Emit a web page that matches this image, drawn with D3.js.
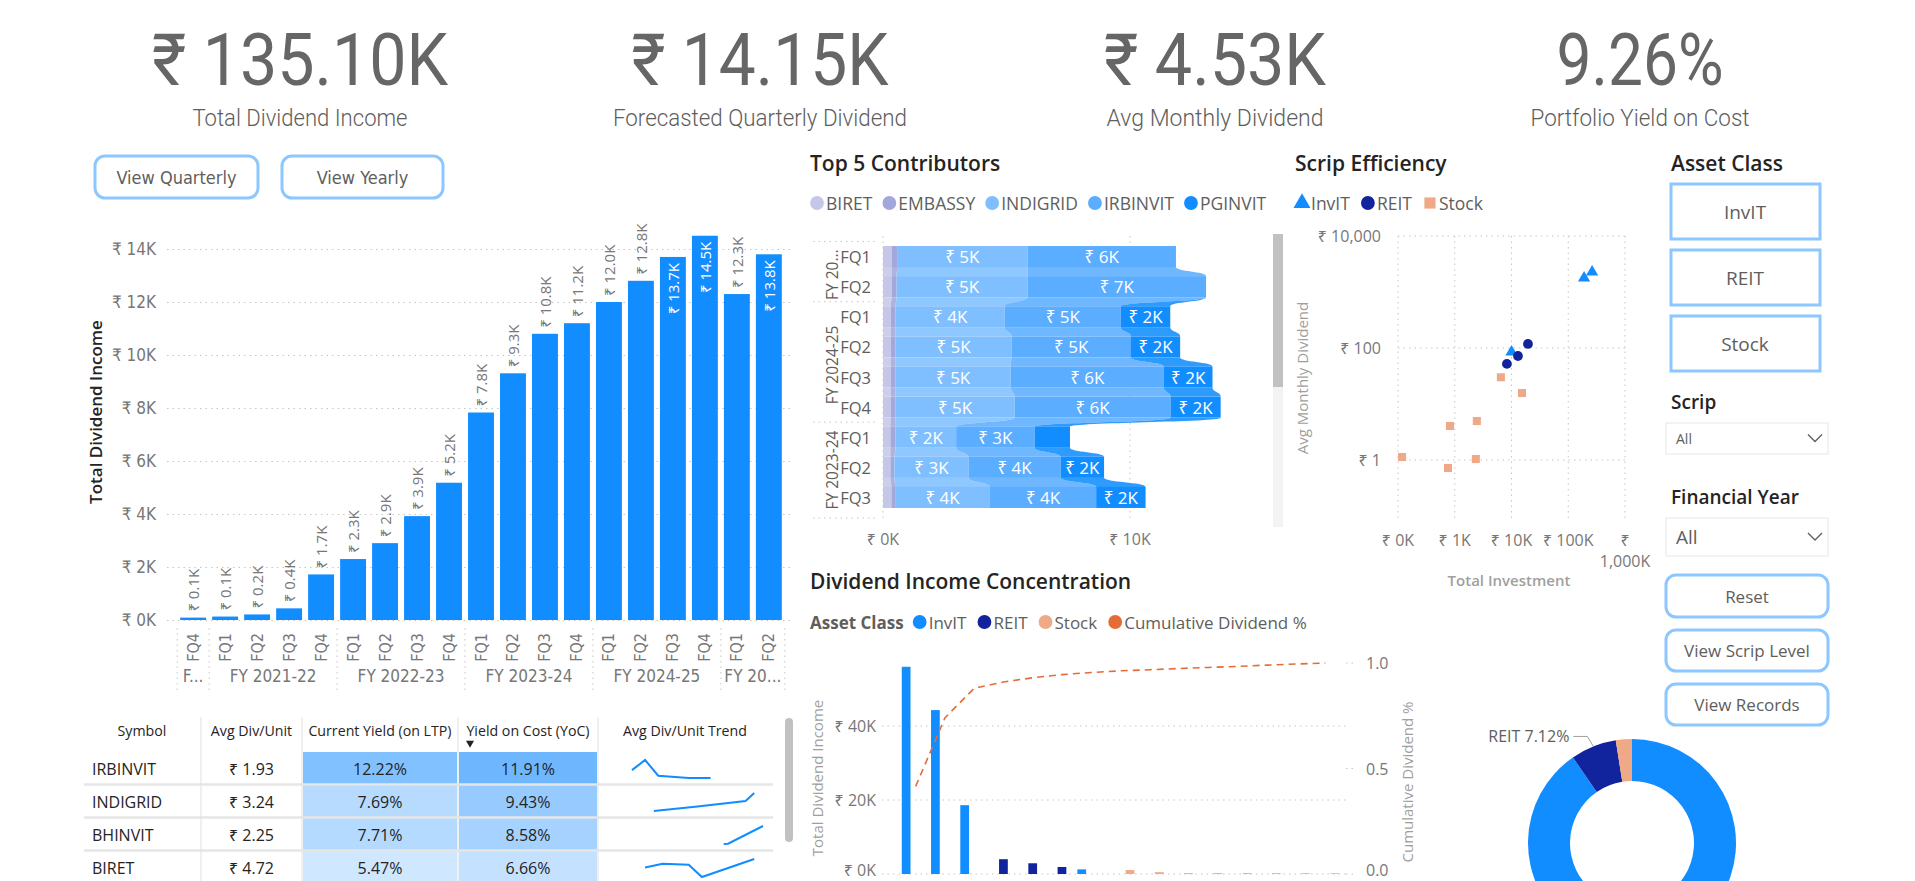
<!DOCTYPE html>
<html>
<head>
<meta charset="utf-8">
<script src="https://cdn.jsdelivr.net/npm/d3@7"></script>
<style>
    body { margin: 0; background: #fff; }
    svg { display: block; }
</style>
</head>
<body>
<div id="dash"></div>
<script>
// ---- data ----
var kpiValues = ["₹ 135.10K", "₹ 14.15K", "₹ 4.53K", "9.26%"];
var kpiLabels = ["Total Dividend Income", "Forecasted Quarterly Dividend", "Avg Monthly Dividend", "Portfolio Yield on Cost"];

var fiscalYears = ["FY 2020-21", "FY 2021-22", "FY 2022-23", "FY 2023-24", "FY 2024-25", "FY 2025-26"];
var quarterYear = [0, 1, 1, 1, 1, 2, 2, 2, 2, 3, 3, 3, 3, 4, 4, 4, 4, 5, 5];
var quarterNames = ["FQ4", "FQ1", "FQ2", "FQ3", "FQ4", "FQ1", "FQ2", "FQ3", "FQ4", "FQ1", "FQ2", "FQ3", "FQ4", "FQ1", "FQ2", "FQ3", "FQ4", "FQ1", "FQ2"];
var quarterIncome = [90, 130, 210, 440, 1720, 2300, 2900, 3920, 5180, 7830, 9310, 10800, 11200, 12000, 12800, 13700, 14500, 12300, 13800];

var contribSeries = ["BIRET", "EMBASSY", "INDIGRID", "IRBINVIT", "PGINVIT"];
var contribColors = ["#C5C7E9", "#A3A7DB", "#7FBFFF", "#5BADFF", "#118DFF"];
var contribYear = ["FY 2025-26", "FY 2025-26", "FY 2024-25", "FY 2024-25", "FY 2024-25", "FY 2024-25", "FY 2023-24", "FY 2023-24", "FY 2023-24"];
var contribQuarter = ["FQ1", "FQ2", "FQ1", "FQ2", "FQ3", "FQ4", "FQ1", "FQ2", "FQ3"];
var biretValues = [0.35, 0.35, 0.31, 0.31, 0.31, 0.31, 0.30, 0.30, 0.34];
var embassyValues = [0.22, 0.20, 0.20, 0.20, 0.20, 0.20, 0.21, 0.16, 0.15];
var indigridValues = [5.28, 5.30, 4.42, 4.69, 4.66, 4.82, 2.45, 3.00, 3.84];
var irbinvitValues = [6.01, 7.23, 4.70, 4.84, 6.20, 6.31, 3.18, 3.73, 4.30];
var pginvitValues = [0, 0, 2.00, 1.99, 1.97, 2.03, 1.43, 1.76, 2.00];

var scatterClass = ["InvIT", "InvIT", "InvIT", "REIT", "REIT", "REIT", "Stock", "Stock", "Stock", "Stock", "Stock", "Stock", "Stock"];
var scatterInvestment = [190000, 263000, 10000, 8300, 13000, 19500, 6500, 15300, 824, 2450, 118, 760, 2350];
var scatterAvgMonthly = [1780, 2275, 85, 52, 72, 118, 30, 15.7, 4.05, 4.97, 1.13, 0.72, 1.04];

var tableSymbols = ["IRBINVIT", "INDIGRID", "BHINVIT", "BIRET"];
var tableAvgDiv = [1.93, 3.24, 2.25, 4.72];
var tableCurYield = [12.22, 7.69, 7.71, 5.47];
var tableYoc = [11.91, 9.43, 8.58, 6.66];
var trendMonths = [[0, 3, 6, 13, 18], [5, 15, 26, 28], [21, 22, 30], [3, 7, 13, 16, 28]];
var trendValues = [[2.05, 2.50, 1.80, 1.70, 1.70], [3.05, 3.15, 3.27, 3.45], [1.90, 1.92, 2.93], [4.73, 4.94, 4.88, 4.20, 5.20]];

var paretoScrips = ["IRBINVIT", "INDIGRID", "PGINVIT", "EMBASSY", "MINDSPACE", "BIRET", "BHINVIT", "STOCK A", "STOCK B", "STOCK C", "STOCK D", "STOCK E", "STOCK F", "STOCK G", "STOCK H"];
var paretoClass = ["InvIT", "InvIT", "InvIT", "REIT", "REIT", "REIT", "InvIT", "Stock", "Stock", "Stock", "Stock", "Stock", "Stock", "Stock", "Stock"];
var paretoIncome = [56000, 44300, 18600, 4000, 2900, 1900, 1250, 1070, 500, 250, 250, 250, 220, 200, 200];
var paretoCumulative = [0.415, 0.74, 0.88, 0.91, 0.93, 0.945, 0.955, 0.963, 0.968, 0.974, 0.979, 0.984, 0.99, 0.995, 1.0];

var assetClasses = ["InvIT", "REIT", "Stock"];
var assetShare = [90.38, 7.12, 2.50];

// ---- styles ----
var FONT_DIN = "'Liberation Sans Narrow','DejaVu Sans Condensed',sans-serif";
var FONT_UI = "'Open Sans','Noto Sans',sans-serif";
var GREY = "#605E5C", DARK = "#252423", AXIS = "#777", GRID = "#C8C6C4";
var BLUE = "#118DFF", NAVY = "#12239E", SALMON = "#F0A987", ORANGE = "#E66C37", BORDER = "#8CC8FF";
var classColor = d3.scaleOrdinal().domain(assetClasses).range([BLUE, NAVY, SALMON]);

var svg = d3.select("#dash").append("svg").attr("width", 1915).attr("height", 881);

function label(g, x, y, txt, size, color, font, anchor, weight) {
    return g.append("text")
        .attr("x", x).attr("y", y)
        .attr("text-anchor", anchor || "start")
        .attr("dominant-baseline", "central")
        .style("font-family", font || FONT_UI)
        .style("font-size", size + "px")
        .style("font-weight", weight || 400)
        .attr("fill", color || GREY)
        .text(txt);
}

function fitText(sel, txt, maxW) {
    sel.text(txt);
    var s = txt;
    while (sel.node().getComputedTextLength() > maxW && s.length > 1) {
        s = s.slice(0, -1);
        sel.text(s.trim() + "...");
    }
}

function button(x, y, w, h, txt, size, font) {
    var g = svg.append("g");
    g.append("rect").attr("x", x).attr("y", y).attr("width", w).attr("height", h)
        .attr("rx", 10).attr("fill", "#fff").attr("stroke", BORDER).attr("stroke-width", 3);
    label(g, x + w / 2, y + h / 2, txt, size, GREY, font, "middle");
}

function legend(x, y, items, colors, shapes, size, gap) {
    var g = svg.append("g");
    var cx = x;
    items.forEach(function(d, i) {
        var shape = shapes ? shapes[i] : d3.symbolCircle;
        g.append("path").attr("d", d3.symbol().type(shape).size(shape === d3.symbolCircle ? 150 : 125))
            .attr("transform", "translate(" + (cx + 6) + "," + y + ")")
            .attr("fill", colors[i]);
        var t = label(g, cx + 15, y, d, size, GREY);
        cx += 15 + t.node().getComputedTextLength() + gap;
    });
    return g;
}

// ---- KPI cards ----
var kpiCenters = [300, 760, 1215, 1640];
var kpiValueWidths = [296, 257, 222, 167];
var kpiLabelWidths = [215, 294, 217, 219];
kpiValues.forEach(function(v, i) {
    svg.append("text").attr("x", kpiCenters[i]).attr("y", 85)
        .attr("text-anchor", "middle")
        .attr("textLength", kpiValueWidths[i]).attr("lengthAdjust", "spacingAndGlyphs")
        .style("font-family", "Roboto, sans-serif").style("font-size", "72px").style("font-weight", 400)
        .attr("fill", "#666").text(v);
    svg.append("text").attr("x", kpiCenters[i]).attr("y", 126)
        .attr("text-anchor", "middle")
        .attr("textLength", kpiLabelWidths[i]).attr("lengthAdjust", "spacingAndGlyphs")
        .style("font-family", "Roboto, sans-serif").style("font-size", "23px").style("font-weight", 300)
        .attr("fill", GREY).text(kpiLabels[i]);
});

button(95, 156, 163, 42, "View Quarterly", 18, FONT_DIN);
button(282, 156, 161, 42, "View Yearly", 18, FONT_DIN);

// ---- quarterly bar chart ----
var bar = svg.append("g");
var barX = d3.scaleBand().domain(d3.range(quarterIncome.length)).range([177, 785]).paddingInner(0.19).paddingOuter(0.1);
var barY = d3.scaleLinear().domain([0, 14000]).range([620, 249]);

bar.append("g").attr("transform", "translate(167,0)")
    .call(d3.axisLeft(barY).tickValues(d3.range(0, 14001, 2000))
        .tickSize(-623).tickPadding(11)
        .tickFormat(function(d) { return "₹ " + d / 1000 + "K"; }))
    .call(function(g) {
        g.select(".domain").remove();
        g.selectAll("line").attr("stroke", GRID).attr("stroke-dasharray", "1.5,4");
        g.selectAll("text").style("font-family", FONT_DIN).style("font-size", "17px").attr("fill", AXIS);
    });

bar.selectAll(".qbar").data(quarterIncome).enter().append("rect")
    .attr("class", "qbar")
    .attr("x", function(d, i) { return barX(i); })
    .attr("y", function(d) { return barY(d); })
    .attr("width", barX.bandwidth())
    .attr("height", function(d) { return barY(0) - barY(d); })
    .attr("fill", BLUE);

// labels go inside the bar when they would run past the top of the plot
bar.selectAll(".qlab").data(quarterIncome).enter().append("text")
    .attr("class", "qlab")
    .style("font-family", FONT_UI).style("font-size", "15px")
    .attr("dominant-baseline", "central")
    .text(function(d) { return "₹ " + d3.format(".1f")(d / 1000) + "K"; })
    .each(function(d, i) {
        var t = d3.select(this);
        var len = this.getComputedTextLength();
        var cx = barX(i) + barX.bandwidth() / 2;
        var top = barY(d);
        var inside = top - 6 - len < 222;
        t.attr("text-anchor", inside ? "end" : "start")
            .attr("fill", inside ? "#fff" : AXIS)
            .attr("transform", "translate(" + cx + "," + (inside ? top + 6 : top - 6) + ") rotate(-90)");
    });

bar.selectAll(".qname").data(quarterNames).enter().append("text")
    .attr("text-anchor", "end").attr("dominant-baseline", "central")
    .style("font-family", FONT_DIN).style("font-size", "16px").attr("fill", AXIS)
    .attr("transform", function(d, i) { return "translate(" + (barX(i) + barX.bandwidth() / 2) + ",633) rotate(-90)"; })
    .text(function(d) { return d; });

var step = barX.step();
var sepX = [barX(0) - step * 0.095];
fiscalYears.forEach(function(fy, k) {
    var idx = quarterYear.map(function(q, i) { return q === k ? i : -1; }).filter(function(i) { return i >= 0; });
    var x0 = barX(idx[0]) - (step - barX.bandwidth()) / 2;
    var x1 = barX(idx[idx.length - 1]) + barX.bandwidth() + (step - barX.bandwidth()) / 2;
    sepX.push(x1);
    var t = label(bar, (x0 + x1) / 2, 676, fy, 17, AXIS, FONT_DIN, "middle");
    fitText(t, fy, x1 - x0 - 6);
});
bar.selectAll(".sep").data(sepX).enter().append("line")
    .attr("x1", function(d) { return d; }).attr("x2", function(d) { return d; })
    .attr("y1", 628).attr("y2", 694)
    .attr("stroke", GRID).attr("stroke-dasharray", "1.5,4");

svg.append("text").attr("transform", "translate(95,412) rotate(-90)")
    .attr("text-anchor", "middle").attr("dominant-baseline", "central")
    .style("font-family", FONT_UI).style("font-size", "17px").style("font-weight", 600)
    .attr("fill", DARK).text("Total Dividend Income");

// ---- table ----
var tbl = svg.append("g");
var colEdges = [83, 201, 302, 458, 598, 772];
var headers = ["Symbol", "Avg Div/Unit", "Current Yield (on LTP)", "Yield on Cost (YoC)", "Avg Div/Unit Trend"];
var headTop = 717, rowTop = 752, rowH = 33;
var curColor = d3.scaleLinear().domain(d3.extent(tableCurYield)).range(["#CFE7FF", "#82C1FF"]);
var yocColor = d3.scaleLinear().domain(d3.extent(tableYoc)).range(["#C4E1FF", "#6EB7FF"]);

tableSymbols.forEach(function(s, r) {
    var y0 = rowTop + r * rowH;
    tbl.append("rect").attr("x", colEdges[2] + 1).attr("y", y0).attr("width", colEdges[3] - colEdges[2] - 2).attr("height", rowH - 1)
        .attr("fill", curColor(tableCurYield[r]));
    tbl.append("rect").attr("x", colEdges[3] + 1).attr("y", y0).attr("width", colEdges[4] - colEdges[3] - 2).attr("height", rowH - 1)
        .attr("fill", yocColor(tableYoc[r]));
    label(tbl, 92, y0 + rowH / 2, s, 16, DARK);
    label(tbl, (colEdges[1] + colEdges[2]) / 2, y0 + rowH / 2, "₹ " + d3.format(".2f")(tableAvgDiv[r]), 16, DARK, FONT_UI, "middle");
    label(tbl, (colEdges[2] + colEdges[3]) / 2, y0 + rowH / 2, d3.format(".2f")(tableCurYield[r]) + "%", 16, DARK, FONT_UI, "middle");
    label(tbl, (colEdges[3] + colEdges[4]) / 2, y0 + rowH / 2, d3.format(".2f")(tableYoc[r]) + "%", 16, DARK, FONT_UI, "middle");

    var sx = d3.scaleLinear().domain([0, 30]).range([632, 763]);
    var sy = d3.scaleLinear().domain(d3.extent(trendValues[r])).range([y0 + 26, y0 + 8]);
    var pts = trendMonths[r].map(function(m, j) { return [m, trendValues[r][j]]; });
    tbl.append("path").datum(pts)
        .attr("d", d3.line().x(function(d) { return sx(d[0]); }).y(function(d) { return sy(d[1]); }))
        .attr("fill", "none").attr("stroke", BLUE).attr("stroke-width", 2);

    if (r > 0) {
        tbl.append("line").attr("x1", 84).attr("x2", 773).attr("y1", y0 - 0.5).attr("y2", y0 - 0.5)
            .attr("stroke", "#E6E6E6").attr("stroke-width", 2.5);
    }
});
headers.forEach(function(h, c) {
    label(tbl, (colEdges[c] + colEdges[c + 1]) / 2, 730, h, 14.2, DARK, FONT_UI, "middle");
});
tbl.append("path").attr("d", d3.symbol().type(d3.symbolTriangle).size(28))
    .attr("transform", "translate(470,743) rotate(180)").attr("fill", DARK);
colEdges.slice(1, 5).forEach(function(x) {
    tbl.append("line").attr("x1", x).attr("x2", x).attr("y1", headTop).attr("y2", 881)
        .attr("stroke", "#E1E1E1").attr("stroke-width", 1);
});
tbl.append("rect").attr("x", 785).attr("y", 718).attr("width", 8).attr("height", 124).attr("rx", 4).attr("fill", "#C1C1C1");

// ---- Top 5 contributors (ribbon) ----
var rib = svg.append("g");
label(rib, 810, 163, "Top 5 Contributors", 21, DARK, FONT_UI, "start", 600);
legend(811, 203, contribSeries, contribColors, null, 17.5, 11);

var contribRows = contribQuarter.map(function(q, i) {
    return { BIRET: biretValues[i], EMBASSY: embassyValues[i], INDIGRID: indigridValues[i], IRBINVIT: irbinvitValues[i], PGINVIT: pginvitValues[i] };
});
var stack = d3.stack().keys(contribSeries)(contribRows);
var rx = d3.scaleLinear().domain([0, 10]).range([883, 1130]);
var ry = d3.scaleBand().domain(d3.range(contribRows.length)).range([237, 517]).padding(0.3);
var bw = ry.bandwidth();

[0, 10].forEach(function(v) {
    rib.append("line").attr("x1", rx(v)).attr("x2", rx(v)).attr("y1", 236).attr("y2", 522)
        .attr("stroke", GRID).attr("stroke-dasharray", "1.5,4");
    label(rib, rx(v), 539, "₹ " + v + "K", 16, AXIS, FONT_UI, "middle");
});

stack.forEach(function(layer, s) {
    for (var i = 0; i < layer.length - 1; i++) {
        var a = rx(layer[i][0]), b = rx(layer[i][1]), c = rx(layer[i + 1][0]), e = rx(layer[i + 1][1]);
        var yb = ry(i) + bw, yt = ry(i + 1), ym = (yb + yt) / 2;
        rib.append("path")
            .attr("d", "M" + a + "," + yb + "C" + a + "," + ym + " " + c + "," + ym + " " + c + "," + yt +
                "L" + e + "," + yt + "C" + e + "," + ym + " " + b + "," + ym + " " + b + "," + yb + "Z")
            .attr("fill", contribColors[s]).attr("opacity", 0.88);
    }
    rib.selectAll(null).data(layer).enter().append("rect")
        .attr("x", function(d) { return rx(d[0]); })
        .attr("y", function(d, i) { return ry(i); })
        .attr("width", function(d) { return rx(d[1]) - rx(d[0]); })
        .attr("height", bw)
        .attr("fill", contribColors[s]);
});
stack.forEach(function(layer) {
    layer.forEach(function(d, i) {
        var w = rx(d[1]) - rx(d[0]);
        if (w < 40) return;
        label(rib, (rx(d[0]) + rx(d[1])) / 2, ry(i) + bw / 2, "₹ " + Math.round(d[1] - d[0]) + "K", 17, "#fff", FONT_UI, "middle");
    });
});

contribQuarter.forEach(function(q, i) {
    label(rib, 871, ry(i) + bw / 2, q, 16.5, GREY, FONT_UI, "end");
});
var groupStarts = [];
contribYear.forEach(function(y, i) { if (i === 0 || contribYear[i - 1] !== y) groupStarts.push(i); });
var gap = (ry.step() - bw) / 2;
groupStarts.forEach(function(start, k) {
    var end = k < groupStarts.length - 1 ? groupStarts[k + 1] : contribYear.length;
    var y0 = ry(start) - gap, y1 = Math.min(ry(end - 1) + bw + gap + 6, 518);
    rib.append("line").attr("x1", 813).attr("x2", 877).attr("y1", y0).attr("y2", y0)
        .attr("stroke", GRID).attr("stroke-dasharray", "1.5,4");
    var t = rib.append("text").attr("text-anchor", "middle").attr("dominant-baseline", "central")
        .attr("transform", "translate(832," + (y0 + y1) / 2 + ") rotate(-90)")
        .style("font-family", FONT_UI).style("font-size", "15.5px").attr("fill", GREY);
    fitText(t, contribYear[start], y1 - y0 - 12);
    if (k === groupStarts.length - 1) {
        rib.append("line").attr("x1", 813).attr("x2", 877).attr("y1", 518).attr("y2", 518)
            .attr("stroke", GRID).attr("stroke-dasharray", "1.5,4");
    }
});
rib.append("rect").attr("x", 1273).attr("y", 234).attr("width", 10).attr("height", 293).attr("fill", "#F3F3F3");
rib.append("rect").attr("x", 1273).attr("y", 234).attr("width", 10).attr("height", 153).attr("fill", "#C1C1C1");

// ---- Scrip efficiency scatter ----
var sc = svg.append("g");
label(sc, 1295, 163, "Scrip Efficiency", 21, DARK, FONT_UI, "start", 600);
legend(1296, 203, assetClasses, [BLUE, NAVY, SALMON], [d3.symbolTriangle, d3.symbolCircle, d3.symbolSquare], 17.5, 12);

var scx = d3.scaleLog().domain([100, 1e6]).range([1398, 1625]);
var scy = d3.scaleLog().domain([0.1, 10000]).range([516, 236]);
[100, 1e3, 1e4, 1e5, 1e6].forEach(function(v) {
    sc.append("line").attr("x1", scx(v)).attr("x2", scx(v)).attr("y1", 236).attr("y2", 518)
        .attr("stroke", GRID).attr("stroke-dasharray", "1.5,4");
    var txt = "₹ " + d3.format(",")(Math.round(v / 1000)) + "K";
    if (v === 1e6) {
        label(sc, scx(v), 540, "₹", 16, AXIS, FONT_UI, "middle");
        label(sc, scx(v), 561, txt.slice(2), 16, AXIS, FONT_UI, "middle");
    } else {
        label(sc, scx(v), 540, txt, 16, AXIS, FONT_UI, "middle");
    }
});
[1, 100, 10000].forEach(function(v) {
    sc.append("line").attr("x1", 1398).attr("x2", 1626).attr("y1", scy(v)).attr("y2", scy(v))
        .attr("stroke", GRID).attr("stroke-dasharray", "1.5,4");
    label(sc, 1381, scy(v), "₹ " + d3.format(",")(v), 16, AXIS, FONT_UI, "end");
});
var shapeOf = { InvIT: d3.symbolTriangle, REIT: d3.symbolCircle, Stock: d3.symbolSquare };
sc.selectAll(".pt").data(scatterInvestment).enter().append("path")
    .attr("d", function(d, i) { return d3.symbol().type(shapeOf[scatterClass[i]]).size(scatterClass[i] === "REIT" ? 75 : 65)(); })
    .attr("transform", function(d, i) { return "translate(" + scx(d) + "," + scy(scatterAvgMonthly[i]) + ")"; })
    .attr("fill", function(d, i) { return classColor(scatterClass[i]); });
sc.append("text").attr("transform", "translate(1302,378) rotate(-90)")
    .attr("text-anchor", "middle").attr("dominant-baseline", "central")
    .style("font-family", FONT_UI).style("font-size", "15px").attr("fill", "#A19F9D").text("Avg Monthly Dividend");
label(sc, 1509, 580, "Total Investment", 15, "#A19F9D", FONT_UI, "middle", 600);

// ---- slicers ----
var sl = svg.append("g");
label(sl, 1671, 163, "Asset Class", 21, DARK, FONT_UI, "start", 600);
assetClasses.forEach(function(a, i) {
    var y = 184 + i * 66;
    sl.append("rect").attr("x", 1671).attr("y", y).attr("width", 149).attr("height", 55)
        .attr("fill", "#fff").attr("stroke", BORDER).attr("stroke-width", 3);
    label(sl, 1745, y + 27.5, a, 19, GREY, FONT_UI, "middle");
});
function dropdown(titleY, title, boxY, boxH, valSize) {
    label(sl, 1671, titleY, title, 19, DARK, FONT_UI, "start", 600);
    sl.append("rect").attr("x", 1666).attr("y", boxY).attr("width", 162).attr("height", boxH)
        .attr("fill", "#fff").attr("stroke", "#E8E8E8").attr("stroke-width", 1);
    label(sl, 1676, boxY + boxH / 2, "All", valSize, GREY, FONT_UI);
    var cy = boxY + boxH / 2;
    sl.append("polyline").attr("points", [[1808, cy - 4], [1815, cy + 3], [1822, cy - 4]].join(" "))
        .attr("fill", "none").attr("stroke", GREY).attr("stroke-width", 1.3);
}
dropdown(402, "Scrip", 423, 31, 14);
dropdown(497, "Financial Year", 518, 38, 19);
button(1666, 575, 162, 42, "Reset", 17, FONT_UI);
button(1666, 630, 162, 41, "View Scrip Level", 17, FONT_UI);
button(1666, 684, 162, 41, "View Records", 17, FONT_UI);

// ---- Pareto ----
var par = svg.append("g");
label(par, 810, 581, "Dividend Income Concentration", 21, DARK, FONT_UI, "start", 600);
var aw = label(par, 810, 622, "Asset Class", 17, GREY, FONT_UI, "start", 700).node().getComputedTextLength();
legend(810 + aw + 10, 622, assetClasses.concat(["Cumulative Dividend %"]), [BLUE, NAVY, SALMON, ORANGE], null, 17, 12);

var px0 = d3.scaleBand().domain(paretoScrips).range([901, 1340]);
var px1 = d3.scaleBand().domain(assetClasses).range([0, px0.bandwidth()]).padding(0.08);
var pyL = d3.scaleLinear().domain([0, 60000]).range([874, 652]);
var pyR = d3.scaleLinear().domain([0, 1]).range([874, 663]);

[0, 20000, 40000].forEach(function(v) {
    par.append("line").attr("x1", 882).attr("x2", 1346).attr("y1", pyL(v)).attr("y2", pyL(v))
        .attr("stroke", GRID).attr("stroke-dasharray", "1.5,4");
    label(par, 876, Math.min(pyL(v), 870), "₹ " + v / 1000 + "K", 16, AXIS, FONT_UI, "end");
});
[0, 0.5, 1].forEach(function(v) {
    par.append("line").attr("x1", 1346).attr("x2", 1356).attr("y1", pyR(v)).attr("y2", pyR(v))
        .attr("stroke", GRID).attr("stroke-dasharray", "1.5,4");
    label(par, 1366, Math.min(pyR(v), 870), d3.format(".1f")(v), 16, AXIS, FONT_UI, "start");
});
par.selectAll(".pbar").data(paretoIncome).enter().append("rect")
    .attr("x", function(d, i) { return px0(paretoScrips[i]) + px1(paretoClass[i]); })
    .attr("y", function(d) { return pyL(d); })
    .attr("width", px1.bandwidth())
    .attr("height", function(d) { return pyL(0) - pyL(d); })
    .attr("fill", function(d, i) { return classColor(paretoClass[i]); });
par.append("path").datum(paretoCumulative)
    .attr("d", d3.line()
        .x(function(d, i) { return px0(paretoScrips[i]) + px0.bandwidth() / 2; })
        .y(function(d) { return pyR(d); }))
    .attr("fill", "none").attr("stroke", ORANGE).attr("stroke-width", 1.6).attr("stroke-dasharray", "7,5");
par.append("text").attr("transform", "translate(817,778) rotate(-90)")
    .attr("text-anchor", "middle").attr("dominant-baseline", "central")
    .style("font-family", FONT_UI).style("font-size", "15px").attr("fill", "#A19F9D").text("Total Dividend Income");
par.append("text").attr("transform", "translate(1407,782) rotate(-90)")
    .attr("text-anchor", "middle").attr("dominant-baseline", "central")
    .style("font-family", FONT_UI).style("font-size", "15px").attr("fill", "#A19F9D").text("Cumulative Dividend %");

// ---- donut ----
var dn = svg.append("g").attr("transform", "translate(1632,843)");
var pie = d3.pie().sort(null).value(function(d) { return d; });
var arcs = pie(assetShare);
var arc = d3.arc().innerRadius(62).outerRadius(104);
dn.selectAll(".slice").data(arcs).enter().append("path")
    .attr("d", arc)
    .attr("fill", function(d, i) { return classColor(assetClasses[i]); });
var reit = arcs[1];
var mid = (reit.startAngle + reit.endAngle) / 2;
var p0 = [Math.sin(mid) * 104, -Math.cos(mid) * 104];
var p1 = [p0[0] - 6, p0[1] - 10];
var p2 = [p1[0] - 14, p1[1]];
dn.append("polyline").attr("points", [p0, p1, p2].join(" "))
    .attr("fill", "none").attr("stroke", "#A19F9D").attr("stroke-width", 1);
label(dn, p2[0] - 4, p2[1], "REIT " + d3.format(".2f")(assetShare[1]) + "%", 16, GREY, FONT_UI, "end");
</script>
</body>
</html>
